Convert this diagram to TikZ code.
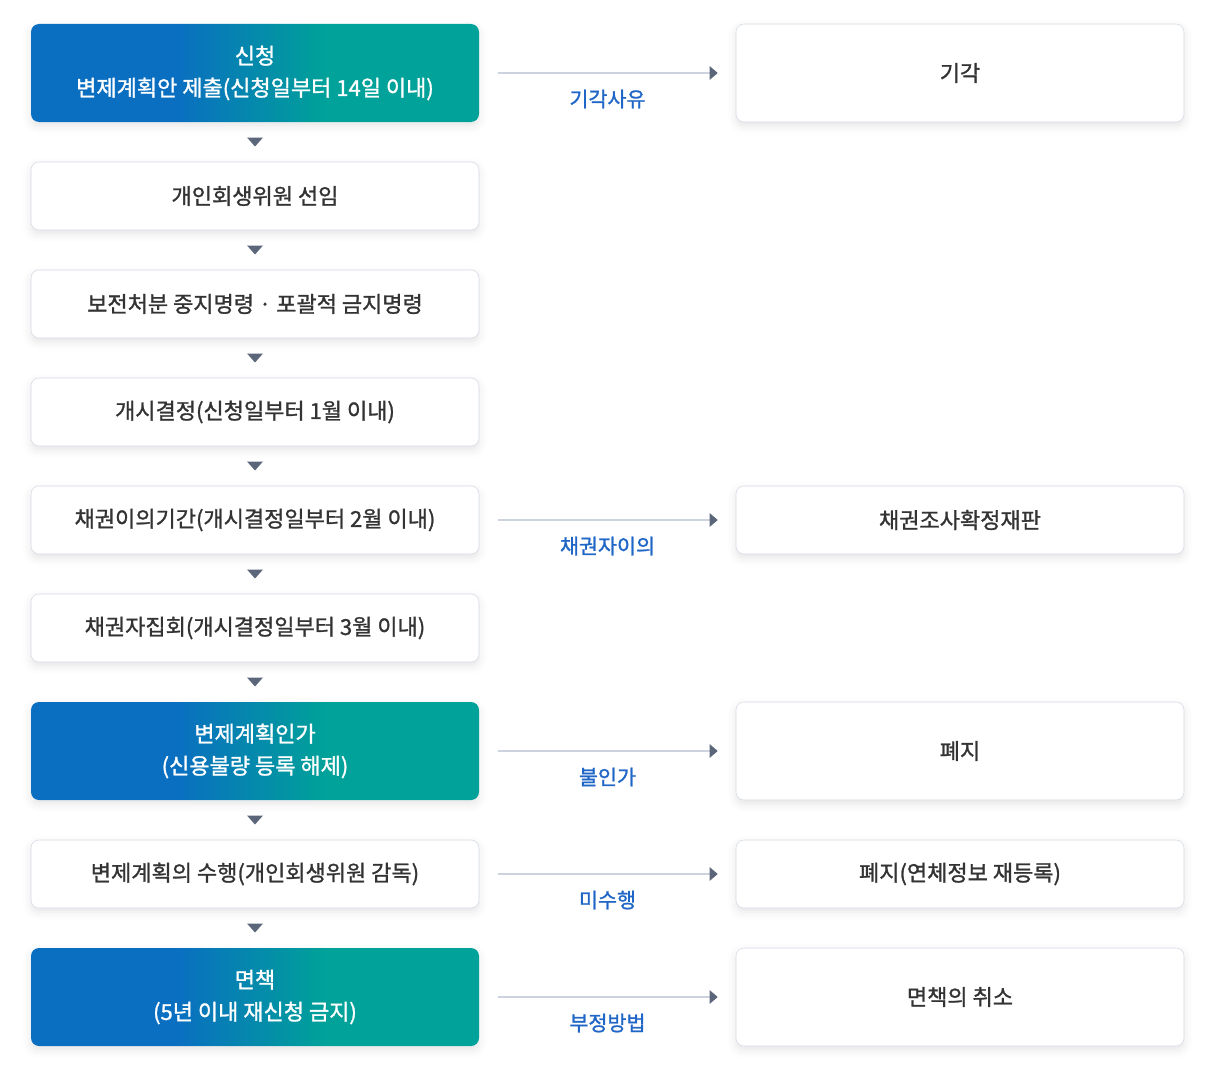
\documentclass[tikz,border=0pt]{standalone}
\usepackage{fontspec}
\setmainfont{Noto Sans CJK KR}[FakeBold=1.2]
\usetikzlibrary{positioning,calc,arrows.meta,shadows.blur}

\definecolor{gblue}{HTML}{0A6EC1}
\definecolor{gteal}{HTML}{00A299}
\definecolor{boxedge}{HTML}{D4DAE4}
\definecolor{txt}{HTML}{333333}
\definecolor{lbl}{HTML}{1F66C6}
\definecolor{tip}{HTML}{5B667A}
\definecolor{wire}{HTML}{CDD3DE}
\pgfdeclarehorizontalshading{stepgrad}{100bp}{color(0bp)=(gblue); color(41bp)=(gblue); color(58bp)=(gteal); color(100bp)=(gteal)}

\begin{document}
\begin{tikzpicture}[
    x=0.75pt, y=-0.75pt,
    box/.style={rectangle, rounded corners=6pt, draw=boxedge, fill=white, minimum width=336pt,
                minimum height=51pt, align=center, text=txt, font=\fontsize{16.5}{20}\selectfont,
                blur shadow={shadow xshift=0pt, shadow yshift=-3pt, shadow blur radius=6pt, shadow opacity=10}},
    tallbox/.style={box, minimum height=73.5pt},
    gradbox/.style={tallbox, draw=none, shading=stepgrad, text=white,
                    font=\fontsize{16.5}{24}\selectfont},
    flow/.style={draw=wire, line width=1pt, -{Triangle[length=6pt, width=10pt, color=tip]},
                 shorten <=14.25pt, shorten >=13.5pt},
    cue/.style={font=\fontsize{15.5}{16}\selectfont, text=lbl, inner sep=1pt},
    tri/.style={fill=tip}
]
\useasboundingbox (0,0) rectangle (1224,1074);

% Main procedure (left column)
\node[gradbox] (apply) at (255,73) {신청\\변제계획안 제출(신청일부터 14일 이내)};
\node[box] (pick) at (255,196) {개인회생위원 선임};
\node[box] (hold) at (255,304) {보전처분 중지명령 · 포괄적 금지명령};
\node[box] (open) at (255,412) {개시결정(신청일부터 1월 이내)};
\node[box] (object) at (255,520) {채권이의기간(개시결정일부터 2월 이내)};
\node[box] (meet) at (255,628) {채권자집회(개시결정일부터 3월 이내)};
\node[gradbox] (approve) at (255,751) {변제계획인가\\(신용불량 등록 해제)};
\node[box] (carry) at (255,874) {변제계획의 수행(개인회생위원 감독)};
\node[gradbox] (free) at (255,997) {면책\\(5년 이내 재신청 금지)};

% Side outcomes (right column)
\node[tallbox] (reject) at (960,73) {기각};
\node[box] (review) at (960,520) {채권조사확정재판};
\node[tallbox] (drop) at (960,751) {폐지};
\node[box] (dropreg) at (960,874) {폐지(연체정보 재등록)};
\node[tallbox] (cancel) at (960,997) {면책의 취소};

% Down markers between steps
\foreach \a/\b in {apply/pick, pick/hold, hold/open, open/object, object/meet,
                   meet/approve, approve/carry, carry/free} {
    \fill[tri] ($(\a.south)!0.5!(\b.north)+(-8,-4.5)$) -- ++(16,0) -- ++(-8,9) -- cycle;
}

% Branches
\foreach \a/\b/\t in {apply/reject/기각사유, object/review/채권자이의, approve/drop/불인가,
                      carry/dropreg/미수행, free/cancel/부정방법} {
    \draw[flow] (\a.east) -- (\b.west) node[midway, below=11pt, cue] {\t};
}

\end{tikzpicture}
\end{document}
